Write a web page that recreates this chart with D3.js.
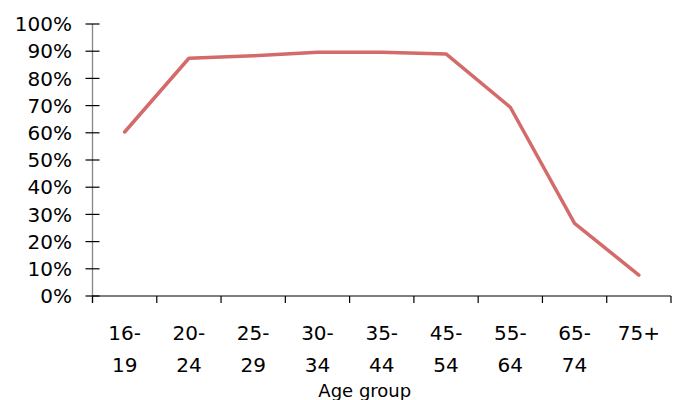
<!DOCTYPE html>
<html>
<head>
<meta charset="utf-8">
<script src="https://cdn.jsdelivr.net/npm/d3@7"></script>
<style>
  body { margin: 0; background: #fff; }
  text { font-family: "DejaVu Sans", sans-serif; fill: #000; }
</style>
</head>
<body>
<div class="chart"></div>
<script>
// age groups and share (%)
const ageGroups = ["16-19", "20-24", "25-29", "30-34", "35-44", "45-54", "55-64", "65-74", "75+"];
const shares = [60.3, 87.4, 88.3, 89.6, 89.6, 89.0, 69.4, 26.7, 7.7];
const yTicks = [0, 10, 20, 30, 40, 50, 60, 70, 80, 90, 100];

const width = 676;
const height = 400;
const plotLeft = 92.5, plotRight = 671, plotTop = 24, plotBottom = 296;

const svg = d3.select('.chart')
	.append('svg')
	.attr('width', width)
	.attr('height', height);

const x = d3.scaleBand()
	.domain(ageGroups)
	.range([plotLeft, plotRight]);

const y = d3.scaleLinear()
	.domain([0, 100])
	.range([plotBottom, plotTop]);

// y axis: grey line, ticks crossing it
svg.append('line')
	.attr('x1', plotLeft).attr('x2', plotLeft)
	.attr('y1', plotTop).attr('y2', plotBottom + 7)
	.attr('stroke', '#868686')
	.attr('stroke-width', 1.3);

svg.selectAll('.ytick')
	.data(yTicks)
	.enter()
	.append('line')
	.attr('class', 'ytick')
	.attr('x1', plotLeft - 7).attr('x2', plotLeft + 7)
	.attr('y1', d => y(d)).attr('y2', d => y(d))
	.attr('stroke', '#000')
	.attr('stroke-width', 1.2);

svg.selectAll('.ylabel')
	.data(yTicks)
	.enter()
	.append('text')
	.attr('class', 'ylabel')
	.attr('x', 72)
	.attr('y', d => y(d))
	.attr('dy', '0.36em')
	.attr('text-anchor', 'end')
	.attr('font-size', 20)
	.text(d => d + '%');

// x axis: black line, ticks at band edges
svg.append('line')
	.attr('x1', plotLeft).attr('x2', plotRight)
	.attr('y1', plotBottom).attr('y2', plotBottom)
	.attr('stroke', '#000')
	.attr('stroke-width', 1.2);

const edges = ageGroups.map(d => x(d)).concat([plotRight]);
svg.selectAll('.xtick')
	.data(edges)
	.enter()
	.append('line')
	.attr('class', 'xtick')
	.attr('x1', d => d).attr('x2', d => d)
	.attr('y1', plotBottom).attr('y2', plotBottom + 7)
	.attr('stroke', '#000')
	.attr('stroke-width', 1.2);

// category labels wrapped after the hyphen
const xlab = svg.selectAll('.xlabel')
	.data(ageGroups)
	.enter()
	.append('text')
	.attr('class', 'xlabel')
	.attr('text-anchor', 'middle')
	.attr('font-size', 20);

xlab.each(function(d) {
	const parts = d.indexOf('-') >= 0 ? [d.split('-')[0] + '-', d.split('-')[1]] : [d];
	const cx = x(d) + x.bandwidth() / 2;
	d3.select(this).selectAll('tspan')
		.data(parts)
		.enter()
		.append('tspan')
		.attr('x', cx)
		.attr('y', (p, i) => 340 + i * 32)
		.text(p => p);
});

svg.append('text')
	.attr('x', (plotLeft + plotRight) / 2 - 17)
	.attr('y', 397)
	.attr('text-anchor', 'middle')
	.attr('font-size', 18)
	.text('Age group');

// the line
const line = d3.line()
	.x((d, i) => x(ageGroups[i]) + x.bandwidth() / 2)
	.y(d => y(d));

svg.append('path')
	.datum(shares)
	.attr('d', line)
	.attr('fill', 'none')
	.attr('stroke', '#d46a6a')
	.attr('stroke-width', 3.5)
	.attr('stroke-linejoin', 'round')
	.attr('stroke-linecap', 'round');
</script>
</body>
</html>
